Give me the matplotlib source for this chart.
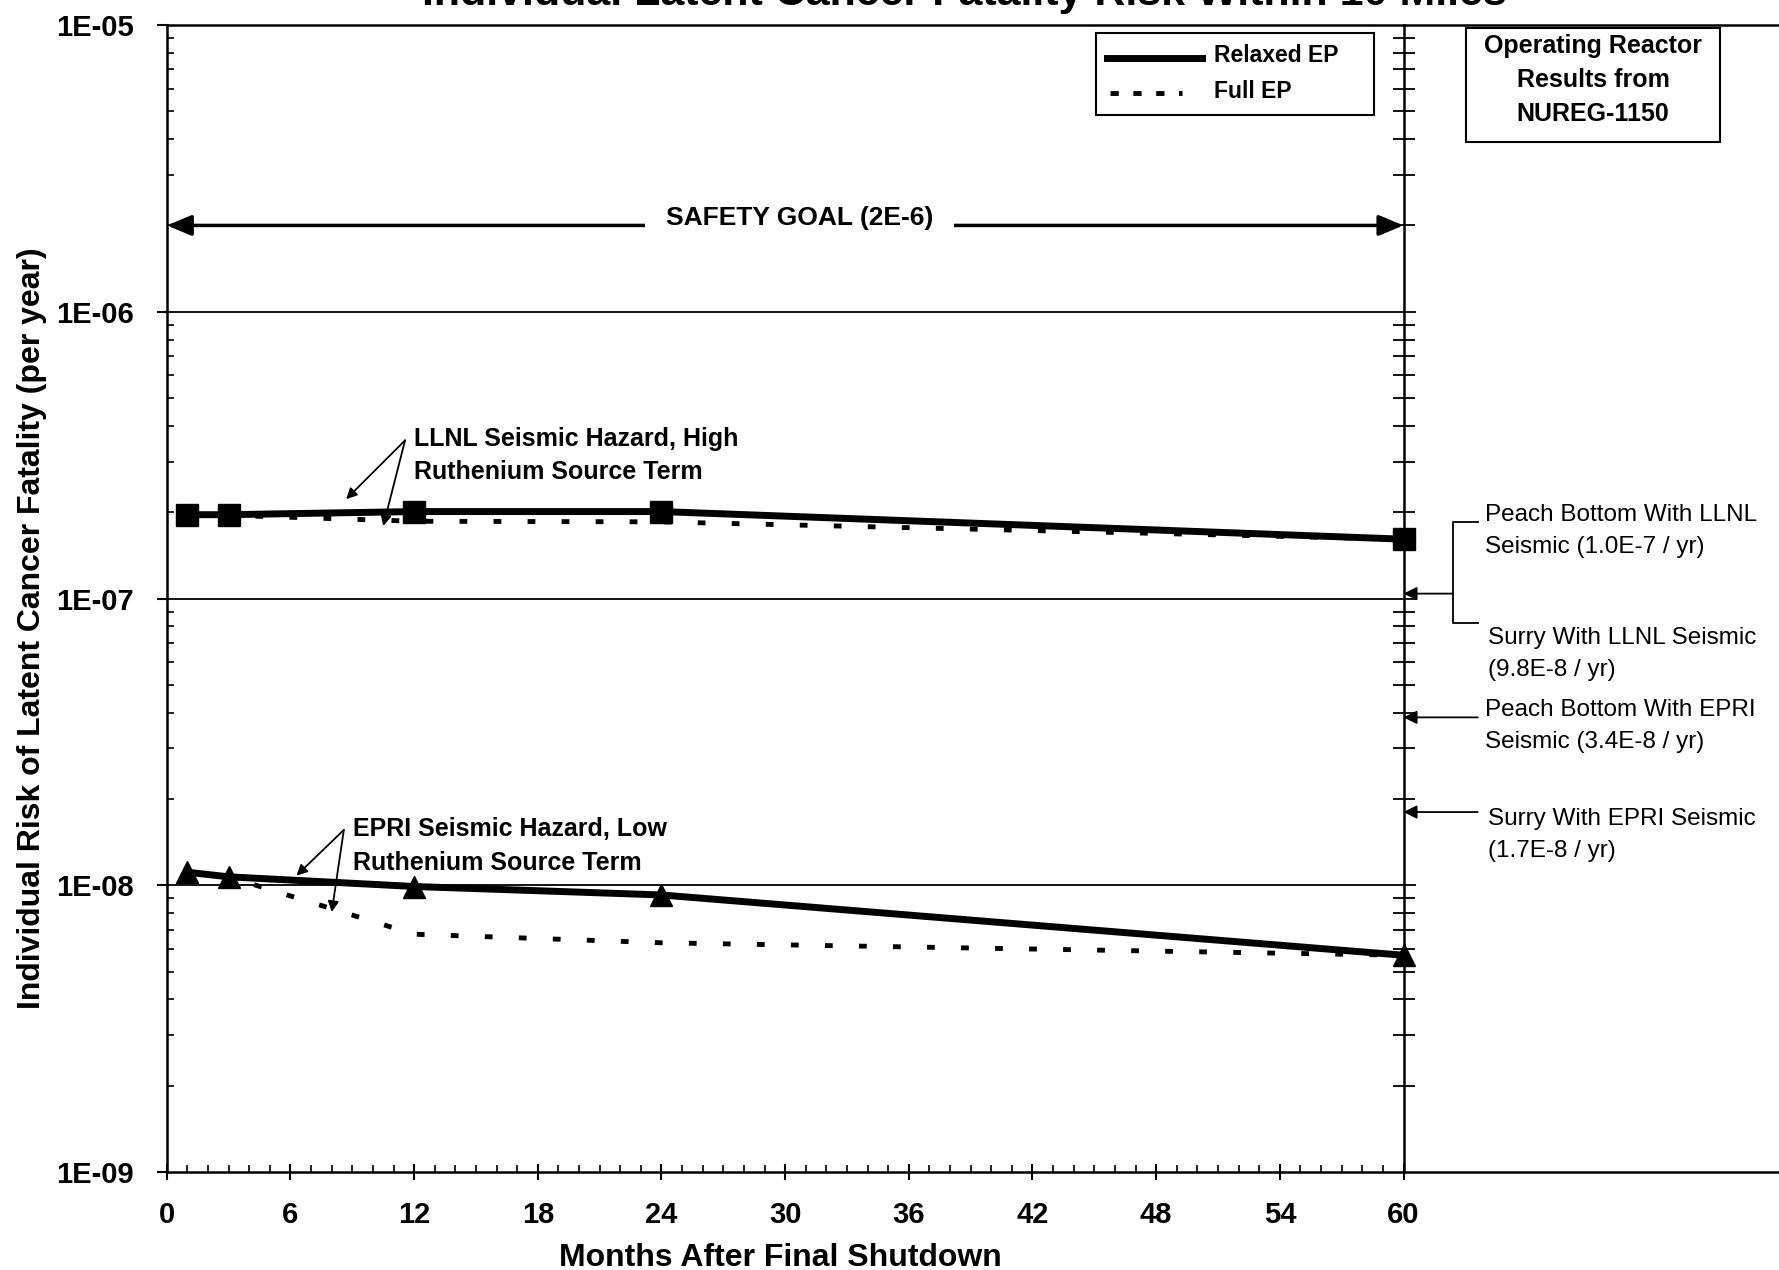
import matplotlib
matplotlib.use('Agg')
import matplotlib.pyplot as plt
from matplotlib.ticker import LogLocator, NullFormatter, FixedLocator
from matplotlib.patches import Rectangle
from matplotlib.lines import Line2D

plt.rcParams['font.family'] = ['Liberation Sans', 'DejaVu Sans']

# ---------------- data ----------------
months = [1, 3, 12, 24, 60]
llnl_relaxed = [1.96e-7, 1.96e-7, 2.01e-7, 2.01e-7, 1.61e-7]
llnl_full = [1.96e-7, 1.95e-7, 1.86e-7, 1.85e-7, 1.61e-7]
epri_relaxed = [1.11e-8, 1.07e-8, 0.99e-8, 0.925e-8, 0.57e-8]
epri_full = [1.10e-8, 1.07e-8, 0.675e-8, 0.63e-8, 0.57e-8]

safety_goal = 2e-6
x_ticks = list(range(0, 61, 6))
x_minor = list(range(0, 61))
y_ticks = [1e-9, 1e-8, 1e-7, 1e-6, 1e-5]
y_tick_labels = ['1E-09', '1E-08', '1E-07', '1E-06', '1E-05']

# NUREG-1150 operating reactor results (arrow levels)
ref_texts = ['Peach Bottom With LLNL\nSeismic (1.0E-7 / yr)',
             'Surry With LLNL Seismic\n(9.8E-8 / yr)',
             'Peach Bottom With EPRI\nSeismic (3.4E-8 / yr)',
             'Surry With EPRI Seismic\n(1.7E-8 / yr)']
ref_text_y = [1.72e-7, 6.4e-8, 3.6e-8, 1.5e-8]
llnl_arrow_y = 1.04e-7
llnl_bracket = [1.85e-7, 8.2e-8]
epri_arrow_y = [3.85e-8, 1.8e-8]

title = 'Individual Latent Cancer Fatality Risk Within 10 Miles'

# ---------------- layout ----------------
W, H, DPI = 1779, 1270, 100
L, R, T, B = 166.8, 1779.0, 25.0, 1172.0
fx = lambda px: px / W
fy = lambda py: 1 - py / H

fig = plt.figure(figsize=(W / DPI, H / DPI), dpi=DPI)
ax = fig.add_axes([L / W, 1 - B / H, (R - L) / W, (B - T) / H])
px_per_month = (1403.5 - L) / 60.0
xmax = (R - L) / px_per_month
ax.set_xlim(0, xmax)
ax.set_yscale('log')
ax.set_ylim(1e-9, 1e-5)

ax.spines['right'].set_visible(False)
for s in ['left', 'top', 'bottom']:
    ax.spines[s].set_linewidth(1.8)

# grid lines at decades (only across the 0-60 month region)
ax.hlines(y_ticks[1:-1], 0, 60.6, colors='k', lw=1.3, zorder=1)

# ticks
ax.set_xticks(x_ticks)
ax.set_xticklabels([str(v) for v in x_ticks])
ax.xaxis.set_minor_locator(FixedLocator(x_minor))
ax.tick_params(axis='x', which='major', direction='inout', length=12, width=1.5,
               pad=15, labelsize=21)
ax.tick_params(axis='x', which='minor', direction='in', length=5, width=1.2)
ax.set_yticks(y_ticks)
ax.set_yticklabels(y_tick_labels)
ax.yaxis.set_minor_locator(LogLocator(base=10, subs=range(2, 10), numticks=20))
ax.yaxis.set_minor_formatter(NullFormatter())
ax.tick_params(axis='y', which='major', direction='out', length=7, width=1.5,
               pad=17, labelsize=21)
ax.tick_params(axis='y', which='minor', direction='in', length=5, width=1.2)
for lab in ax.get_xticklabels() + ax.get_yticklabels():
    lab.set_fontweight('bold')

# vertical axis at 60 months with crossing minor ticks
sec = ax.secondary_yaxis(60.0 / xmax)
sec.set_yticks(y_ticks)
sec.yaxis.set_minor_locator(LogLocator(base=10, subs=range(2, 10), numticks=20))
sec.yaxis.set_minor_formatter(NullFormatter())
sec.tick_params(which='both', labelright=False, labelleft=False)
sec.tick_params(which='major', length=0)
sec.tick_params(which='minor', direction='inout', length=16, width=1.3)
for s in sec.spines.values():
    s.set_linewidth(1.8)

# ---------------- series ----------------
full_style = dict(color='k', lw=3.5, linestyle=(0, (1.6, 5.4)), dash_capstyle='butt')
relaxed_style = dict(color='k', lw=5)
ax.plot(months, llnl_full, zorder=3, **full_style)
ax.plot(months, epri_full, zorder=3, **full_style)
ax.plot(months, llnl_relaxed, marker='s', ms=16, zorder=4, **relaxed_style)
ax.plot(months, epri_relaxed, marker='^', ms=16, zorder=4, **relaxed_style)

# ---------------- safety goal ----------------
ax.annotate('', xy=(0, safety_goal), xytext=(60, safety_goal),
            arrowprops=dict(arrowstyle='<|-|>,head_length=0.6,head_width=0.25',
                            mutation_scale=25, lw=2.5, color='k',
                            shrinkA=0, shrinkB=0), zorder=4)
ax.annotate('SAFETY GOAL (2E-6)', xy=(30.7, safety_goal), xytext=(0, 5),
            textcoords='offset points', ha='center', va='center', fontsize=19,
            fontweight='bold', zorder=5,
            bbox=dict(boxstyle='square,pad=0.8', fc='white', ec='none'))

# ---------------- curve annotations ----------------
arrow_kw = dict(arrowstyle='-|>', mutation_scale=16, lw=1.3, color='k',
                shrinkA=0, shrinkB=0)
ax.text(12.0, 3.15e-7, 'LLNL Seismic Hazard, High\nRuthenium Source Term',
        ha='left', va='center', fontsize=18, fontweight='bold', linespacing=1.5)
for tip in [(8.7, 2.22e-7), (10.5, 1.79e-7)]:
    ax.annotate('', xy=tip, xytext=(11.56, 3.56e-7), arrowprops=arrow_kw)

ax.text(9.05, 1.37e-8, 'EPRI Seismic Hazard, Low\nRuthenium Source Term',
        ha='left', va='center', fontsize=18, fontweight='bold', linespacing=1.5)
for tip in [(6.29, 1.08e-8), (8.0, 0.806e-8)]:
    ax.annotate('', xy=tip, xytext=(8.59, 1.56e-8), arrowprops=arrow_kw)

# ---------------- right-side reference results ----------------
ref_arrow = dict(arrowstyle='-|>', mutation_scale=20, lw=1.3, color='k',
                 shrinkA=0, shrinkB=0)
xb = 62.4
xt = 63.6
ax.plot([xt, xb, xb, xt], [llnl_bracket[0], llnl_bracket[0], llnl_bracket[1], llnl_bracket[1]],
        color='k', lw=1.3)
ax.annotate('', xy=(60, llnl_arrow_y), xytext=(xb, llnl_arrow_y), arrowprops=ref_arrow)
for yv in epri_arrow_y:
    ax.annotate('', xy=(60, yv), xytext=(xt, yv), arrowprops=ref_arrow)
ref_x = [63.96, 64.1, 63.96, 64.1]
for xv, yv, txt in zip(ref_x, ref_text_y, ref_texts):
    ax.text(xv, yv, txt, ha='left', va='center', fontsize=17.5, linespacing=1.58)

# ---------------- legend (drawn as a box) ----------------
fig.add_artist(Rectangle((fx(1096), fy(115)), (1374 - 1096) / W, (115 - 33) / H,
                         transform=fig.transFigure, fill=False, ec='k', lw=1.5))
fig.add_artist(Line2D([fx(1107), fx(1202)], [fy(58), fy(58)], transform=fig.transFigure,
                      **relaxed_style))
fig.add_artist(Line2D([fx(1110), fx(1182)], [fy(93), fy(93)], transform=fig.transFigure,
                      color='k', lw=3.5, linestyle=(0, (1.7, 3.0)), dash_capstyle='butt'))
fig.text(fx(1214), fy(56), 'Relaxed EP', ha='left', va='center', fontsize=16.5,
         fontweight='bold')
fig.text(fx(1214), fy(91), 'Full EP', ha='left', va='center', fontsize=16.5,
         fontweight='bold')

# ---------------- NUREG-1150 box ----------------
fig.add_artist(Rectangle((fx(1466), fy(142)), (1720 - 1466) / W, (142 - 28) / H,
                         transform=fig.transFigure, fill=False, ec='k', lw=1.5))
fig.text(fx(1593), fy(80), 'Operating Reactor\nResults from\nNUREG-1150', ha='center',
         va='center', fontsize=18, fontweight='bold', linespacing=1.54,
         multialignment='center')

# ---------------- titles ----------------
fig.text(fx(964.5), fy(5), title, ha='center', va='baseline', fontsize=31,
         fontweight='bold')
ax.set_xlabel('Months After Final Shutdown', fontsize=23, fontweight='bold')
ax.xaxis.set_label_coords((780 - L) / (R - L), (B - 1258) / (B - T))
ax.xaxis.label.set_verticalalignment('center')
ax.set_ylabel('Individual Risk of Latent Cancer Fatality (per year)', fontsize=23,
              fontweight='bold')
ax.yaxis.set_label_coords((31.8 - L) / (R - L), (B - 628.5) / (B - T))
ax.yaxis.label.set_verticalalignment('center')

fig.savefig('out.png', dpi=DPI)
